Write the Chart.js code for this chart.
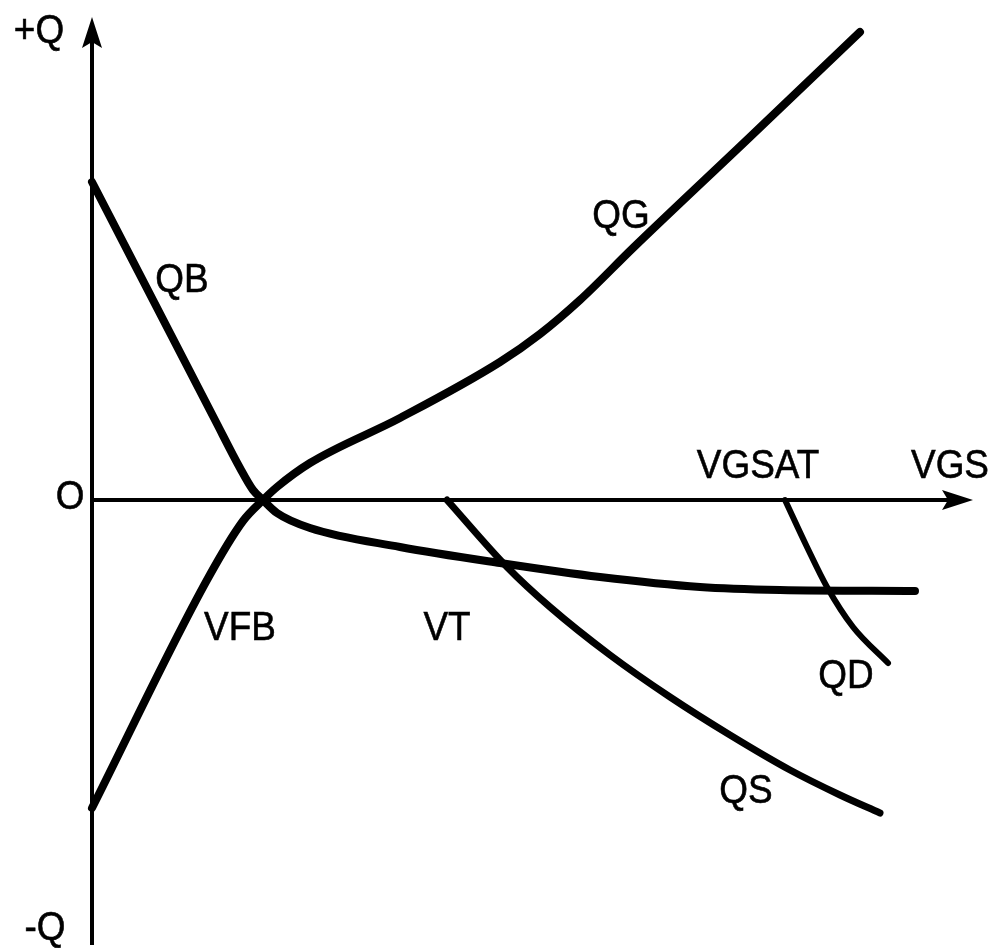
<!DOCTYPE html>
<html>

<head>
  <title>MOSFET charges vs VGS</title>
  <script src="https://cdn.jsdelivr.net/npm/chart.js@4.4.0/dist/chart.umd.min.js"></script>
  <style>
    body { margin: 0; background: #fff; }
    canvas { display: block; }
  </style>
</head>

<body>
  <canvas id="chargeChart" width="993" height="948"></canvas>
  <script>
    // gate charge: accumulation line, through VFB, then inversion knee and steeper rise
    const qgX = [0, 1.15, 1.51, 1.71, 1.85, 2.18, 3.08, 4.08, 4.48, 4.88, 5.41, 6.58, 7.68];
    const qgY = [-3.08, -0.80, -0.21, 0.00, 0.13, 0.37, 0.82, 1.38, 1.66, 2.00, 2.52, 3.63, 4.68];

    // bulk charge
    const qbX = [0, 1.23, 1.48, 1.61, 1.71, 1.85, 2.18, 3.08, 4.08, 5.08, 6.08, 6.88, 8.23];
    const qbY = [3.18, 0.80, 0.32, 0.10, 0.00, -0.13, -0.28, -0.47, -0.63, -0.77, -0.87, -0.90, -0.91];

    // source charge, starts at VT
    const qsX = [3.55, 4.15, 4.58, 5.18, 5.78, 6.38, 6.98, 7.48, 7.88];
    const qsY = [0, -0.67, -1.07, -1.55, -1.97, -2.35, -2.70, -2.95, -3.13];

    // drain charge, starts at VGSAT
    const qdX = [6.93, 7.15, 7.35, 7.61, 7.96];
    const qdY = [0, -0.47, -0.87, -1.27, -1.63];

    // axis extents
    const xAxisEnd = 8.81;
    const yAxisTop = 4.83;
    const yAxisBottom = -4.45;

    const textLabels = [
      { text: '+Q', x: -0.53, y: 4.70 },
      { text: 'O', x: -0.22, y: 0.04 },
      { text: '-Q', x: -0.47, y: -4.27 },
      { text: 'QB', x: 0.90, y: 2.21 },
      { text: 'QG', x: 5.29, y: 2.85 },
      { text: 'VGSAT', x: 6.66, y: 0.35 },
      { text: 'VGS', x: 8.58, y: 0.35 },
      { text: 'VFB', x: 1.48, y: -1.27 },
      { text: 'VT', x: 3.55, y: -1.27 },
      { text: 'QD', x: 7.54, y: -1.75 },
      { text: 'QS', x: 6.54, y: -2.90 }
    ];

    function toPoints(xs, ys) {
      return xs.map((x, i) => ({ x: x, y: ys[i] }));
    }

    function curve(label, xs, ys, width) {
      return {
        label: label,
        data: toPoints(xs, ys),
        showLine: true,
        borderColor: '#000',
        borderWidth: width,
        pointRadius: 0,
        cubicInterpolationMode: 'monotone',
        borderCapStyle: 'round',
        borderJoinStyle: 'round'
      };
    }

    // axes with arrowheads plus the text labels
    const sketchAxes = {
      id: 'sketchAxes',
      beforeDatasetsDraw(chart) {
        const ctx = chart.ctx;
        const xs = chart.scales.x;
        const ys = chart.scales.y;
        const x0 = xs.getPixelForValue(0);
        const y0 = ys.getPixelForValue(0);
        const xEnd = xs.getPixelForValue(xAxisEnd);
        const yTop = ys.getPixelForValue(yAxisTop);
        const yBot = ys.getPixelForValue(yAxisBottom);

        ctx.save();
        ctx.strokeStyle = '#000';
        ctx.fillStyle = '#000';
        ctx.lineWidth = 4;
        ctx.beginPath();
        ctx.moveTo(x0, yBot);
        ctx.lineTo(x0, yTop + 20);
        ctx.moveTo(x0, y0);
        ctx.lineTo(xEnd - 20, y0);
        ctx.stroke();

        // arrowheads
        ctx.beginPath();
        ctx.moveTo(x0, yTop);
        ctx.lineTo(x0 + 10, yTop + 31);
        ctx.lineTo(x0, yTop + 25);
        ctx.lineTo(x0 - 10, yTop + 31);
        ctx.closePath();
        ctx.fill();
        ctx.beginPath();
        ctx.moveTo(xEnd, y0);
        ctx.lineTo(xEnd - 31, y0 + 10);
        ctx.lineTo(xEnd - 25, y0);
        ctx.lineTo(xEnd - 31, y0 - 10);
        ctx.closePath();
        ctx.fill();
        ctx.restore();
      },
      afterDatasetsDraw(chart) {
        const ctx = chart.ctx;
        const xs = chart.scales.x;
        const ys = chart.scales.y;
        ctx.save();
        ctx.fillStyle = '#000';
        ctx.strokeStyle = '#000';
        ctx.lineWidth = 0.6;
        ctx.font = '41px "Liberation Sans", Arial, sans-serif';
        ctx.textAlign = 'center';
        ctx.textBaseline = 'middle';
        textLabels.forEach(l => {
          ctx.save();
          ctx.translate(xs.getPixelForValue(l.x), ys.getPixelForValue(l.y));
          ctx.scale(0.9, 1);
          ctx.fillText(l.text, 0, 2);
          ctx.strokeText(l.text, 0, 2);
          ctx.restore();
        });
        ctx.restore();
      }
    };

    const ctx = document.getElementById('chargeChart').getContext('2d');
    const chargeChart = new Chart(ctx, {
      type: 'scatter',
      data: {
        datasets: [
          curve('QG', qgX, qgY, 8),
          curve('QB', qbX, qbY, 8),
          curve('QS', qsX, qsY, 7),
          curve('QD', qdX, qdY, 6)
        ]
      },
      options: {
        responsive: false,
        animation: false,
        layout: { padding: 0 },
        plugins: {
          legend: { display: false },
          tooltip: { enabled: false }
        },
        scales: {
          x: { type: 'linear', min: -0.92, max: 9.01, display: false },
          y: { type: 'linear', min: -4.48, max: 5.0, display: false }
        }
      },
      plugins: [sketchAxes]
    });
  </script>
</body>

</html>
